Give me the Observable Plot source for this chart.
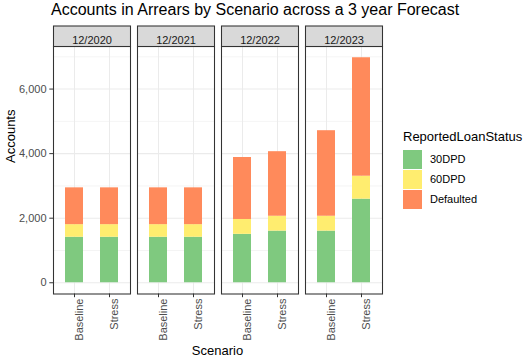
<!DOCTYPE html>
<html>
<head>
<meta charset="utf-8">
<script src="https://cdn.jsdelivr.net/npm/d3@7"></script>
<script src="https://cdn.jsdelivr.net/npm/@observablehq/plot@0.6"></script>
<style>
  html, body { margin: 0; padding: 0; background: #fff; }
  #wrap { position: relative; width: 529px; height: 364px; overflow: hidden;
          font-family: "Liberation Sans", Arial, sans-serif; color: #000; }
  #title { position: absolute; left: 51px; top: 1px; font-size: 16px; white-space: nowrap; line-height: 18px; }
  #chart { position: absolute; left: 0; top: 25px; }
  #ytitle { position: absolute; left: 4px; top: 170px; font-size: 13px; line-height: 14px;
            transform: translate(0, -50%) rotate(-90deg); transform-origin: 0 0; white-space: nowrap; }
  #xtitle { position: absolute; left: 217.5px; top: 343px; font-size: 13px; line-height: 16px;
            transform: translateX(-50%); white-space: nowrap; }
  #legend { position: absolute; left: 403px; top: 129px; }
  #legend .lt { font-size: 13px; line-height: 16px; white-space: nowrap; margin-bottom: 4px; }
  #legend .row { display: flex; align-items: center; height: 20px; }
  #legend .sw { width: 19px; height: 19px; margin-right: 8px; }
  #legend .lab { font-size: 11px; }
</style>
</head>
<body>
<div id="wrap">
  <div id="title">Accounts in Arrears by Scenario across a 3 year Forecast</div>
  <div id="chart"></div>
  <div id="ytitle"></div>
  <div id="xtitle"></div>
  <div id="legend"></div>
</div>
<script>
const periods = ["12/2020", "12/2021", "12/2022", "12/2023"];
const scenarios = ["Baseline", "Stress"];
const statuses = ["30DPD", "60DPD", "Defaulted"];
// values in order: (12/2020 Baseline, 12/2020 Stress, 12/2021 Baseline, ...)
const dpd30 = [1410, 1410, 1410, 1410, 1500, 1600, 1600, 2590];
const dpd60 = [390, 390, 390, 390, 460, 460, 460, 710];
const defaulted = [1140, 1140, 1140, 1140, 1920, 2000, 2650, 3670];
const yMajor = [0, 2000, 4000, 6000];
const yMinor = [1000, 3000, 5000, 7000];
const colors = ["#7FC97F", "#FFED6F", "#FF8A5B"];
const legendTitle = "ReportedLoanStatus";
const xTitle = "Scenario";
const yTitle = "Accounts";

const series = [dpd30, dpd60, defaulted];
const data = [];
periods.forEach((p, i) => {
  scenarios.forEach((s, j) => {
    const k = i * scenarios.length + j;
    statuses.forEach((st, m) => {
      data.push({period: p, scenario: s, status: st, value: series[m][k]});
    });
  });
});
const totals = dpd30.map((v, k) => v + dpd60[k] + defaulted[k]);
const maxT = d3.max(totals);

const H = 339, mTop = 21, mBottom = 70.5;
const innerH = H - mTop - mBottom;

const plot = Plot.plot({
  width: 529,
  height: H,
  marginTop: mTop,
  marginBottom: mBottom,
  marginLeft: 52,
  marginRight: 145.7,
  style: {fontFamily: "'Liberation Sans', Arial, sans-serif", fontSize: "11px", background: "#fff"},
  fx: {domain: periods, paddingInner: 0.08, paddingOuter: 0, axis: null, label: null},
  x: {domain: scenarios, paddingInner: 0.5, paddingOuter: 0.35, axis: null, label: null},
  y: {domain: [-0.05 * maxT, 1.05 * maxT], axis: null, label: null},
  color: {domain: statuses, range: colors},
  marks: [
    Plot.gridY({ticks: yMinor, stroke: "#EBEBEB", strokeOpacity: 1, strokeWidth: 0.55}),
    Plot.gridY({ticks: yMajor, stroke: "#EBEBEB", strokeOpacity: 1, strokeWidth: 1.07}),
    Plot.gridX({stroke: "#EBEBEB", strokeOpacity: 1, strokeWidth: 1.07}),
    Plot.barY(data, {fx: "period", x: "scenario", y: "value", fill: "status", inset: 0}),
    Plot.frame({stroke: "#333333", strokeWidth: 1.07}),
    Plot.frame({fill: "#D9D9D9", stroke: "#333333", strokeWidth: 1.07, insetTop: -mTop + 0.5, insetBottom: innerH}),
    Plot.text(periods, {fx: d => d, text: d => d, frameAnchor: "top", dy: -10.5, fontSize: 11, fill: "#1A1A1A"}),
    Plot.axisY({ticks: yMajor, tickSize: 3.7, tickFormat: () => "", stroke: "#333333", label: null}),
    Plot.axisY({ticks: yMajor, tickSize: 0, tickPadding: 7, tickFormat: d3.format(","), fill: "#4D4D4D", fontSize: 11, label: null}),
    Plot.axisX({tickSize: 3.7, tickFormat: () => "", stroke: "#333333", label: null}),
    Plot.axisX({tickSize: 0, tickPadding: 4.5, tickRotate: -90, dx: 5, fill: "#4D4D4D", fontSize: 11, label: null})
  ]
});
document.getElementById("chart").appendChild(plot);

document.getElementById("ytitle").textContent = yTitle;
document.getElementById("xtitle").textContent = xTitle;

const cs = plot.scale("color");
const legend = document.getElementById("legend");
const lt = document.createElement("div");
lt.className = "lt";
lt.textContent = legendTitle;
legend.appendChild(lt);
statuses.forEach(s => {
  const row = document.createElement("div");
  row.className = "row";
  const sw = document.createElement("div");
  sw.className = "sw";
  sw.style.background = cs.apply(s);
  const lab = document.createElement("span");
  lab.className = "lab";
  lab.textContent = s;
  row.appendChild(sw);
  row.appendChild(lab);
  legend.appendChild(row);
});
</script>
</body>
</html>
